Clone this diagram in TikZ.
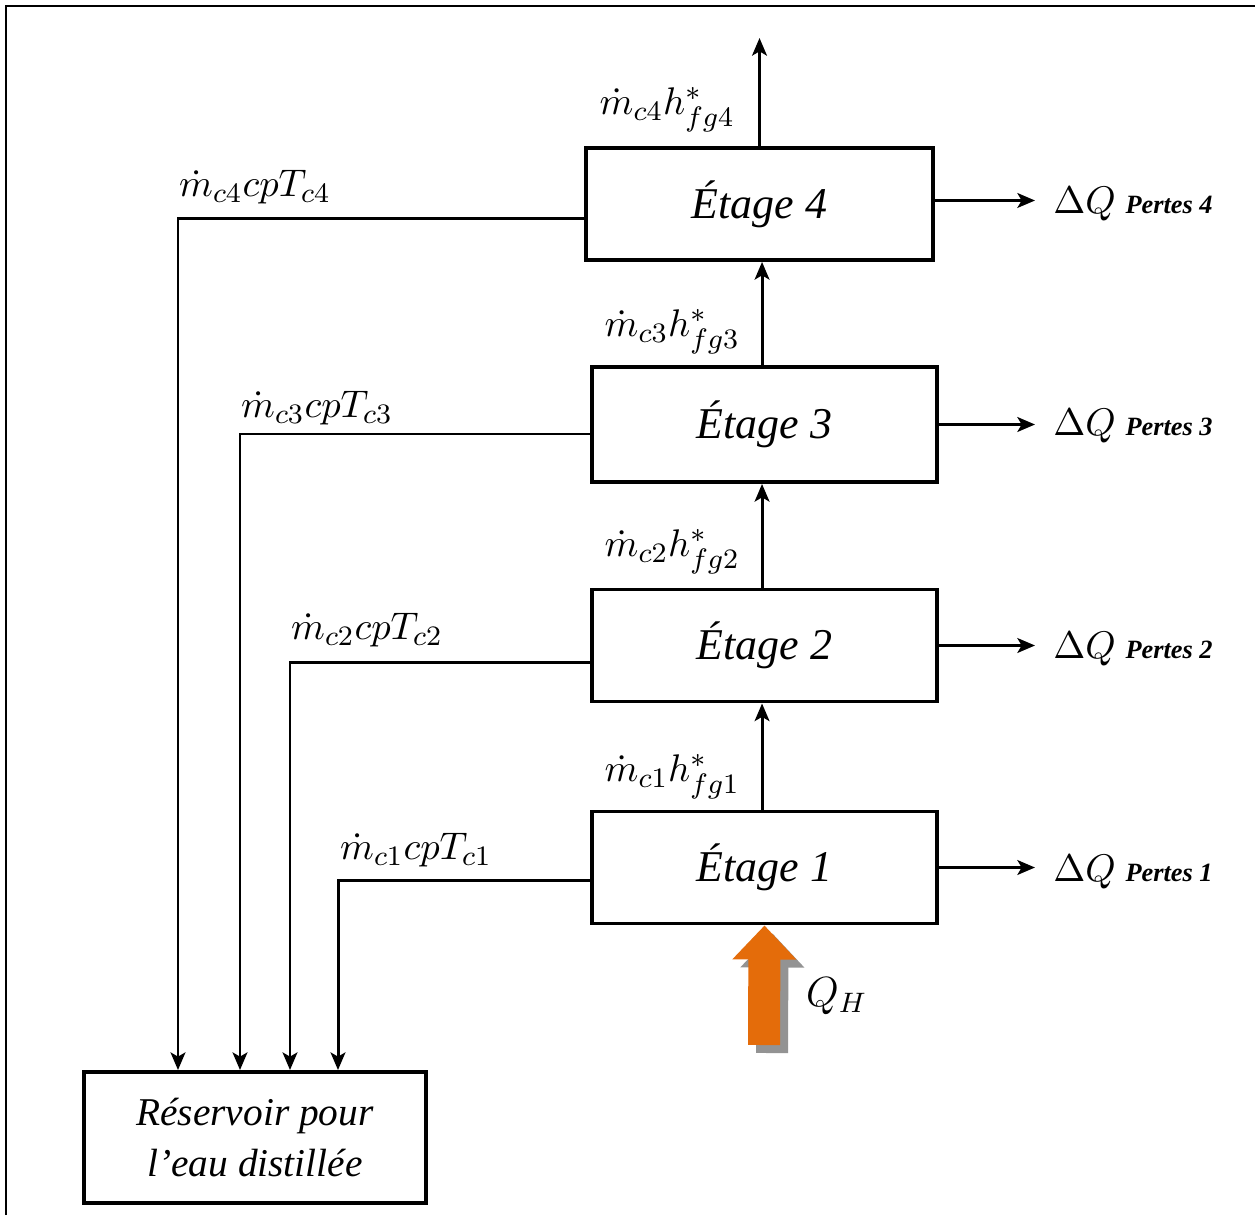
\documentclass[tikz,border=0pt]{standalone}
\usepackage{amsmath,amssymb}
\usepackage{fontspec}
\setmainfont{Liberation Serif}
\usetikzlibrary{arrows.meta}
\definecolor{heatorange}{RGB}{228,108,10}

\begin{document}
\begin{tikzpicture}[x=0.01cm,y=-0.01cm,
  stage/.style={draw,line width=1.1pt,minimum width=3.45cm,minimum height=1.12cm,font=\fontsize{12.5}{15}\selectfont\itshape},
  flow/.style={line width=0.85pt,-{Stealth[length=5pt,width=4.2pt,inset=1.2pt]}},
  lbl/.style={font=\fontsize{11}{13}\selectfont,inner sep=1pt},
  loss/.style={anchor=west,font=\fontsize{11}{14}\selectfont,inner xsep=5pt,inner ysep=1pt},
  heat/.style={line width=0.32cm,-{Triangle[length=0.34cm,width=0.62cm]}}]
\useasboundingbox (0,0) rectangle (1255,1215);
\draw[line width=0.6pt] (6,1215) -- (6,6) -- (1255,6);

\node[stage,minimum width=3.47cm] (e4) at (759.5,204) {Étage 4};
\node[stage,minimum height=1.15cm] (e3) at (764.5,424.5) {Étage 3};
\node[stage] (e2) at (764.5,645.5) {Étage 2};
\node[stage] (e1) at (764.5,867.5) {Étage 1};
\node[draw,line width=1.1pt,minimum width=3.42cm,minimum height=1.31cm,align=center,
  font=\fontsize{11.2}{14.5}\selectfont\itshape] (res) at (255,1137.5) {Réservoir pour\\l'eau distillée};

% vapeur entre les etages
\coordinate (out) at (758,38);
\draw[flow] (e4.north) -- (e4.north |- out);
\draw[flow] ([xshift=-0.7pt]e3.north) -- ([xshift=-0.7pt]e3.north |- e4.south);
\draw[flow] ([xshift=-0.7pt]e2.north) -- ([xshift=-0.7pt]e2.north |- e3.south);
\draw[flow] ([xshift=-0.7pt]e1.north) -- ([xshift=-0.7pt]e1.north |- e2.south);
\node[lbl,anchor=east] (h4) at (739,110) {$\dot m_{c4}h^{*}_{fg4}$};
\node[lbl,anchor=east] (h3) at (744,332) {$\dot m_{c3}h^{*}_{fg3}$};
\node[lbl,anchor=east] (h2) at (744,552) {$\dot m_{c2}h^{*}_{fg2}$};
\node[lbl,anchor=east] (h1) at (744,777) {$\dot m_{c1}h^{*}_{fg1}$};

% pertes
\node[loss] (dq4) at (1035,204) {$\Delta Q$ {\fontsize{7.5}{9}\selectfont\bfseries\itshape Pertes 4}};
\node[loss] (dq3) at (1035,426) {$\Delta Q$ {\fontsize{7.5}{9}\selectfont\bfseries\itshape Pertes 3}};
\node[loss] (dq2) at (1035,649) {$\Delta Q$ {\fontsize{7.5}{9}\selectfont\bfseries\itshape Pertes 2}};
\node[loss] (dq1) at (1035,872) {$\Delta Q$ {\fontsize{7.5}{9}\selectfont\bfseries\itshape Pertes 1}};
\draw[flow] ([yshift=1pt]e4.east) -- ([yshift=1pt]e4.east -| dq4.west);
\draw[flow] (e3.east) -- (e3.east -| dq3.west);
\draw[flow] (e2.east) -- (e2.east -| dq2.west);
\draw[flow] (e1.east) -- (e1.east -| dq1.west);

% condensat vers le reservoir
\draw[flow] ([yshift=-4pt]e4.west) -| (res.north -| 178,0);
\draw[flow] ([yshift=-2.7pt]e3.west) -| (res.north -| 240,0);
\draw[flow] ([yshift=-4.7pt]e2.west) -| (res.north -| 290,0);
\draw[flow] ([yshift=-3.8pt]e1.west) -| (res.north -| 338,0);
\node[lbl,anchor=west] (c4) at (175,187) {$\dot m_{c4}cpT_{c4}$};
\node[lbl,anchor=west] (c3) at (237,408) {$\dot m_{c3}cpT_{c3}$};
\node[lbl,anchor=west] (c2) at (287,630) {$\dot m_{c2}cpT_{c2}$};
\node[lbl,anchor=west] (c1) at (336,850) {$\dot m_{c1}cpT_{c1}$};

% apport de chaleur
\coordinate (qh) at (764,1045);
\draw[heat,gray!85,transform canvas={shift={(0.08cm,-0.08cm)}}] (qh) -- (e1.south);
\draw[heat,heatorange] (qh) -- (e1.south);
\node[lbl,anchor=west,font=\fontsize{12}{14}\selectfont] (qhl) at (802,996) {$Q_H$};
\end{tikzpicture}
\end{document}
